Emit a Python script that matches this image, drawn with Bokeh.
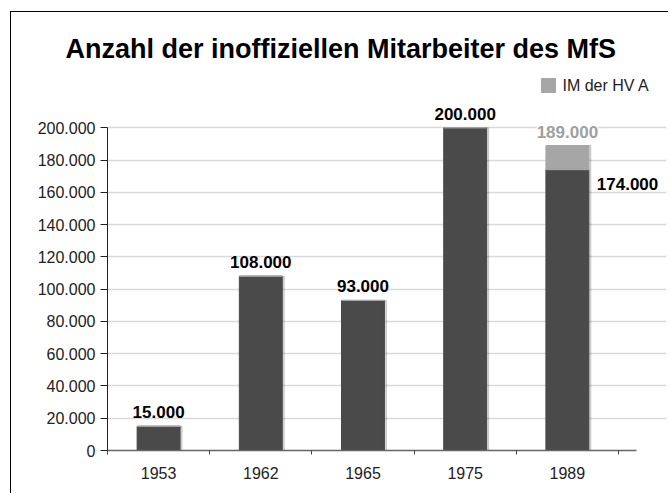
from bokeh.plotting import figure
from bokeh.models import Range1d, FixedTicker, Label, ColumnDataSource, LabelSet
from bokeh.core.properties import value
from bokeh.embed import file_html
from bokeh.resources import INLINE

# ---- data ----
years = ["1953", "1962", "1965", "1975", "1989"]
im_total = [15000, 108000, 93000, 200000, 174000]
im_hva = [0, 0, 0, 0, 15000]
top_labels = ["15.000", "108.000", "93.000", "200.000", ""]
hva_total_label = "189.000"
base_label_1989 = "174.000"
y_ticks = [0, 20000, 40000, 60000, 80000, 100000, 120000, 140000, 160000, 180000, 200000]
y_tick_labels = ["0", "20.000", "40.000", "60.000", "80.000", "100.000", "120.000",
                 "140.000", "160.000", "180.000", "200.000"]
title_text = "Anzahl der inoffiziellen Mitarbeiter des MfS"
legend_text = "IM der HV A"

FONT = "Liberation Sans"
DARK = "#4a4a4a"
LIGHT = "#a6a6a6"

idx = list(range(len(years)))
hva_top = [a + b for a, b in zip(im_total, im_hva)]
x_end = len(idx) - 0.5 + 0.176

p = figure(width=658, height=482, output_backend="svg", toolbar_location=None,
           x_range=Range1d(-0.5, 4.970), y_range=Range1d(0, 239200),
           min_border_left=96, min_border_right=3, min_border_top=52, min_border_bottom=44)
p.margin = (11, 0, 0, 10)
p.styles = {"border-left": "1px solid black", "border-top": "1px solid black"}
p.outline_line_color = None
p.background_fill_color = "white"
p.border_fill_color = "white"

# title
p.title.text = title_text
p.title.text_font = FONT
p.title.text_font_size = "27px"
p.title.text_font_style = "bold"
p.title.text_color = "black"
p.title.align = "left"
p.title.offset = -42
p.title.standoff = 2

# grid
p.xgrid.visible = False
p.ygrid.ticker = FixedTicker(ticks=y_ticks[1:])
p.ygrid.bounds = (-0.5, x_end)
p.ygrid.grid_line_color = "#d9d9d9"
p.ygrid.grid_line_width = 1.5

# axes
xa = p.xaxis[0]
xa.ticker = FixedTicker(ticks=idx, minor_ticks=[i - 0.5 for i in idx] + [len(idx) - 0.5])
xa.bounds = (-0.5, x_end)
xa.major_label_overrides = {i: y for i, y in zip(idx, years)}
xa.major_tick_out = 0
xa.major_tick_in = 0
xa.minor_tick_out = 4
xa.minor_tick_in = 0
xa.minor_tick_line_color = "#444444"
xa.axis_line_color = "#666666"
xa.axis_line_width = 1.5
xa.major_label_text_font = FONT
xa.major_label_text_font_size = "16px"
xa.major_label_text_color = "#222222"
xa.major_label_standoff = 12

ya = p.yaxis[0]
ya.ticker = FixedTicker(ticks=y_ticks)
ya.bounds = (0, 200000)
ya.major_label_overrides = {t: l for t, l in zip(y_ticks, y_tick_labels)}
ya.major_tick_out = 7
ya.major_tick_in = 0
ya.minor_tick_out = 0
ya.minor_tick_in = 0
ya.axis_line_color = "#222222"
ya.major_tick_line_color = "#222222"
ya.major_label_text_font = FONT
ya.major_label_text_font_size = "16px"
ya.major_label_text_color = "#222222"
ya.major_label_standoff = 5

# shadows
p.vbar(x=[i + 0.02 for i in idx], top=hva_top, bottom=0, width=0.42,
       color="black", alpha=0.15)
# bars
p.vbar(x=idx, top=im_total, bottom=0, width=0.42, color=DARK)
p.vbar(x=idx, top=hva_top, bottom=im_total, width=0.42, color=LIGHT)

# value labels above bars
src = ColumnDataSource(dict(x=idx, y=im_total, t=top_labels))
p.add_layout(LabelSet(x="x", y="y", text="t", source=src, text_align="center",
                      text_baseline="middle", y_offset=14, text_font=value(FONT),
                      text_font_size=value("17px"), text_font_style="bold",
                      text_color="black"))

# 189.000 label with white background
p.add_layout(Label(x=idx[4], y=hva_top[4], text=hva_total_label, text_align="center",
                   text_baseline="middle", y_offset=14, text_font=FONT,
                   text_font_size="17px", text_font_style="bold", text_color="#a0a0a0",
                   background_fill_color="white"))
# 174.000 label to the right
p.add_layout(Label(x=idx[4] + 0.21, y=im_total[4], text=base_label_1989, text_align="left",
                   text_baseline="middle", x_offset=8, y_offset=-14, text_font=FONT,
                   text_font_size="17px", text_font_style="bold", text_color="black"))

# legend
p.rect(x=[3.815], y=[226200], width=14, height=14, width_units="screen",
       height_units="screen", color=LIGHT)
p.add_layout(Label(x=3.952, y=226200, text=legend_text, text_align="left",
                   text_baseline="middle", text_font=FONT, text_font_size="16px",
                   text_color="#222222"))

open("out.html", "w").write(file_html(p, INLINE))
